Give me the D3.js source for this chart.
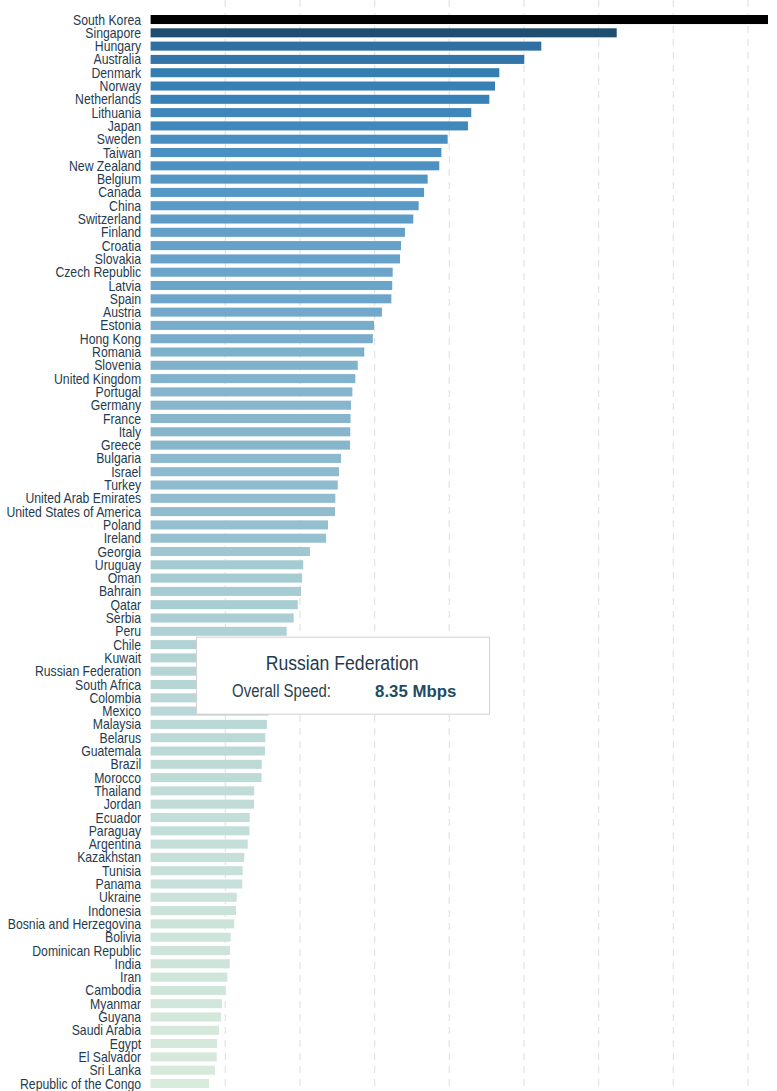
<!DOCTYPE html>
<html>
<head>
<meta charset="utf-8">
<script src="https://cdnjs.cloudflare.com/ajax/libs/d3/7.8.5/d3.min.js"></script>
<style>
  body { margin: 0; background: #fff; }
  .label { font-family: "Liberation Sans", Arial, sans-serif; font-size: 14px; fill: #1f3b4f; }
</style>
</head>
<body>
<script>

var countries = ["South Korea","Singapore","Hungary","Australia","Denmark","Norway","Netherlands","Lithuania","Japan","Sweden",
  "Taiwan","New Zealand","Belgium","Canada","China","Switzerland","Finland","Croatia","Slovakia","Czech Republic",
  "Latvia","Spain","Austria","Estonia","Hong Kong","Romania","Slovenia","United Kingdom","Portugal","Germany",
  "France","Italy","Greece","Bulgaria","Israel","Turkey","United Arab Emirates","United States of America","Poland","Ireland",
  "Georgia","Uruguay","Oman","Bahrain","Qatar","Serbia","Peru","Chile","Kuwait","Russian Federation",
  "South Africa","Colombia","Mexico","Malaysia","Belarus","Guatemala","Brazil","Morocco","Thailand","Jordan",
  "Ecuador","Paraguay","Argentina","Kazakhstan","Tunisia","Panama","Ukraine","Indonesia","Bosnia and Herzegovina","Bolivia",
  "Dominican Republic","India","Iran","Cambodia","Myanmar","Guyana","Saudi Arabia","Egypt","El Salvador","Sri Lanka",
  "Republic of the Congo"];

// overall speed, Mbps
var speeds = [41.34,31.21,26.16,25.02,23.35,23.06,22.68,21.47,21.25,19.89,
  19.47,19.33,18.55,18.31,17.95,17.59,17.03,16.77,16.70,16.21,
  16.18,16.12,15.49,14.96,14.88,14.31,13.87,13.71,13.51,13.42,
  13.39,13.37,13.35,12.75,12.62,12.53,12.37,12.35,11.88,11.75,
  10.67,10.22,10.14,10.07,9.85,9.58,9.11,8.75,8.52,8.35,
  8.20,8.05,7.90,7.79,7.68,7.66,7.44,7.43,6.94,6.93,
  6.64,6.62,6.50,6.27,6.17,6.14,5.77,5.72,5.60,5.36,
  5.32,5.30,5.14,5.03,4.78,4.71,4.58,4.45,4.43,4.31,
  3.91];

var selected = "Russian Federation";

var data = countries.map(function(c, i) { return {country: c, speed: speeds[i]}; });

var width = 777,
    height = 1091,
    left = 150.6,
    right = 768;

var x = d3.scaleLinear().domain([0, d3.max(speeds)]).range([left, right]);
var y = d3.scaleBand().domain(countries).range([15, 1088]).paddingInner(0.32);

// colour follows the speed
var color = d3.scaleLinear()
    .domain([3.9, 7.8, 10, 13.4, 17, 19.5, 23, 26, 31.2, 41.34])
    .range(["#d9ebdc","#bad8d6","#a6ccd2","#86b5cc","#63a0c8","#4a90c2","#3680b6","#3170a3","#1f4e70","#000000"]);

var svg = d3.select("body")
    .append("svg")
        .attr("width", width)
        .attr("height", height);

// dashed grid
svg.append("g")
    .selectAll("line")
    .data(x.ticks(8).filter(function(d) { return d > 0; }))
    .enter().append("line")
        .attr("x1", function(d) { return x(d); })
        .attr("x2", function(d) { return x(d); })
        .attr("y1", 0)
        .attr("y2", height)
        .attr("stroke", "#e3e3e3")
        .attr("stroke-width", 1.2)
        .attr("stroke-dasharray", "7,6");

svg.append("g")
    .selectAll("rect")
    .data(data)
    .enter().append("rect")
        .attr("x", x(0))
        .attr("y", function(d) { return y(d.country); })
        .attr("width", function(d) { return x(d.speed) - x(0); })
        .attr("height", y.bandwidth())
        .attr("fill", function(d) { return color(d.speed); });

// narrow labels: squeeze the glyphs horizontally
svg.append("g")
    .selectAll("text")
    .data(data)
    .enter().append("text")
        .attr("class", "label")
        .attr("transform", function(d) {
            return "translate(" + (x(0) - 9.5) + "," + (y(d.country) + y.bandwidth() / 2) + ") scale(0.875,1)";
        })
        .attr("dy", "0.36em")
        .attr("text-anchor", "end")
        .text(function(d) { return d.country; });

// tooltip for the selected country
var sel = data.find(function(d) { return d.country == selected; });
var tip = svg.append("g")
    .attr("transform", "translate(" + (x(0) + 45.5) + "," + (y(selected) - 30) + ")");

tip.append("rect")
    .attr("x", 0.5)
    .attr("y", 0.5)
    .attr("width", 293)
    .attr("height", 77)
    .attr("fill", "#fff")
    .attr("stroke", "#d0d0d0");

tip.append("text")
    .attr("transform", "translate(146,33) scale(0.84,1)")
    .attr("text-anchor", "middle")
    .style("font-family", "'Liberation Sans', Arial, sans-serif")
    .style("font-size", "21px")
    .style("fill", "#1f3b4f")
    .text(sel.country);

tip.append("text")
    .attr("transform", "translate(36,60) scale(0.855,1)")
    .style("font-family", "'Liberation Sans', Arial, sans-serif")
    .style("font-size", "17.5px")
    .style("fill", "#2a3f4d")
    .text("Overall Speed:");

tip.append("text")
    .attr("x", 179)
    .attr("y", 60)
    .style("font-family", "'Liberation Sans', Arial, sans-serif")
    .style("font-size", "16.8px")
    .style("font-weight", "bold")
    .style("fill", "#1f4b62")
    .text(sel.speed.toFixed(2) + " Mbps");

</script>
</body>
</html>
